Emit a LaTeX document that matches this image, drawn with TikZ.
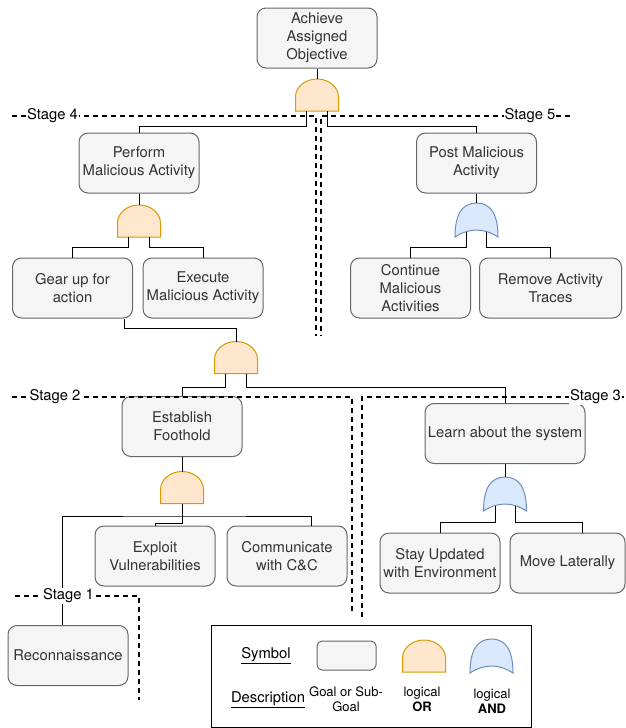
\documentclass[tikz,border=0pt]{standalone}
\usepackage{fontspec}
\setmainfont{TeX Gyre Heros}
\definecolor{goalfill}{HTML}{F5F5F5}
\definecolor{goalline}{HTML}{666666}
\definecolor{goaltext}{HTML}{333333}
\definecolor{orfill}{HTML}{FFE6CC}
\definecolor{orline}{HTML}{D79B00}
\definecolor{andfill}{HTML}{DAE8FC}
\definecolor{andline}{HTML}{6C8EBF}
\begin{document}
\begin{tikzpicture}[x=1pt,y=-1pt,font=\fontsize{14.8}{18}\selectfont,
  goal/.style={draw=goalline,fill=goalfill,text=goaltext,rounded corners=9pt,line width=1pt,
    minimum width=#1,minimum height=60pt,inner sep=0pt,align=center},
  goal/.default=120pt,
  link/.style={line width=1pt},
  stageline/.style={line width=1.6pt,dash pattern=on 5pt off 4pt},
  stagelabel/.style={fill=white,inner sep=1pt},
  legendtext/.style={align=center,inner sep=0pt,font=\fontsize{13}{15}\selectfont},
  pics/orgate/.style={code={
    \draw[draw=orline,fill=orfill,line width=1pt] (-21.5,16) -- (-21.5,2)
      .. controls (-21.5,-7.9) and (-11.9,-16) .. (0,-16)
      .. controls (11.9,-16) and (21.5,-7.9) .. (21.5,2) -- (21.5,16) -- cycle;
    \coordinate (-top) at (0,-16);
    \coordinate (-in1) at (-10.5,16);
    \coordinate (-in2) at (10.5,16);
    \coordinate (-out) at (0,16);
  }},
  pics/andgate/.style={code={
    \draw[draw=andline,fill=andfill,line width=1pt] (-21.5,17)
      .. controls (-21.5,-5.7) and (-14.3,-17) .. (0,-17)
      .. controls (14.3,-17) and (21.5,-5.7) .. (21.5,17)
      .. controls (7.2,7.7) and (-7.2,7.7) .. cycle;
    \coordinate (-top) at (0,-17);
    \coordinate (-in1) at (-10,11.5);
    \coordinate (-in2) at (10,11.5);
  }}]
  \useasboundingbox (0,0) rectangle (626,728);

  \node[goal] (obj) at (317,38) {Achieve\\Assigned\\Objective};
  \node[goal] (perform) at (139,163) {Perform\\Malicious Activity};
  \node[goal] (post) at (476.5,163) {Post Malicious\\Activity};
  \node[goal] (gear) at (72.5,288) {Gear up for\\action};
  \node[goal] (execute) at (203,288) {Execute\\Malicious Activity};
  \node[goal] (cont) at (410.5,288) {Continue\\Malicious\\Activities};
  \node[goal=142pt] (remove) at (550.5,288) {Remove Activity\\Traces};
  \node[goal] (establish) at (182,426.5) {Establish\\Foothold};
  \node[goal=160pt] (learn) at (505,433.5) {Learn about the system};
  \node[goal] (exploit) at (155,556) {Exploit\\Vulnerabilities};
  \node[goal] (comm) at (287,556) {Communicate\\with C\&C};
  \node[goal] (stay) at (440,563) {Stay Updated\\with Environment};
  \node[goal=115pt] (move) at (567.5,563) {Move Laterally};
  \node[goal] (recon) at (68,655.5) {Reconnaissance};

  \pic (g0) at (317,95) {orgate};
  \pic (g1) at (139,221) {orgate};
  \pic (g2) at (476.5,220) {andgate};
  \pic (g3) at (236,357.5) {orgate};
  \pic (g4) at (182,487.5) {orgate};
  \pic (g5) at (505,494) {andgate};

  \draw[link] (obj) -- (g0-top);
  \draw[link] (g0-in1) -- ++(0,15) -| (perform);
  \draw[link] (g0-in2) -- ++(0,15) -| (post);
  \draw[link] (perform) -- (g1-top);
  \draw[link] (g1-in1) -- ++(0,10) -| (gear);
  \draw[link] (g1-in2) -- ++(0,10) -| (execute);
  \draw[link] (post) -- (g2-top);
  \draw[link] (g2-in1) -- ++(0,15.5) -| (cont);
  \draw[link] (g2-in2) -- ++(0,15.5) -| (remove);
  \draw[link] ([xshift=51.5pt]gear.south) -- ++(0,10) -| (g3-top);
  \draw[link] (g3-in1) -- ++(0,13.5) -| (establish);
  \draw[link] (g3-in2) -- ++(0,13.5) -| (learn);
  \draw[link] (establish) -- (g4-top);
  \draw[link] (g4-out) -- ++(0,19.5) -| (exploit);
  \path (g4-out) ++(0,12.5) coordinate (j4);
  \draw[link] ([xshift=-6pt]recon.north) |- (j4) -| ([xshift=24pt]comm.north);
  \draw[link] (learn) -- (g5-top);
  \draw[link] (g5-in1) -- ++(0,16.5) -| (stay);
  \draw[link] (g5-in2) -- ++(0,16.5) -| ([xshift=15pt]move.north);

  \draw[stageline] (12,116) -- (316,116) -- (316,336);
  \node[stagelabel] (s4) at (52.5,116) {Stage 4};
  \draw[stageline] (570,116) -- (321,116) -- (321,336);
  \node[stagelabel] (s5) at (530,116) {Stage 5};
  \draw[stageline] (12,397) -- (352,397) -- (352,612);
  \node[stagelabel] (s2) at (55,397) {Stage 2};
  \draw[stageline] (624,397) -- (362,397) -- (362,617);
  \node[stagelabel] (s3) at (595.5,397) {Stage 3};
  \draw[stageline] (15,596) -- (139,596) -- (139,700);
  \node[stagelabel] (s1) at (68.5,596) {Stage 1};

  \draw[line width=1pt] (211,625) rectangle (531,727);
  \node (symlbl) at (266,656) {\underline{Symbol}};
  \node[goal,minimum width=59pt,minimum height=29pt,rounded corners=5pt] (symgoal) at (346.5,655.5) {};
  \pic (symor) at (424,656) {orgate};
  \pic (symand) at (491.5,656) {andgate};
  \node (desclbl) at (268,700) {\underline{Description}};
  \node[legendtext] (descgoal) at (346,699.5) {Goal or Sub-\\Goal};
  \node[legendtext] (descor) at (422,699.5) {logical\\\textbf{OR}};
  \node[legendtext] (descand) at (492,701) {logical\\\textbf{AND}};
\end{tikzpicture}
\end{document}
